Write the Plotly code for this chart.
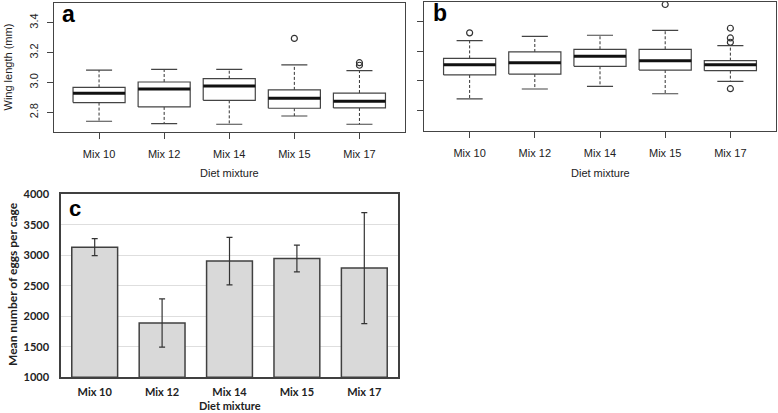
import plotly.graph_objects as go

# ---------------- data ----------------
mixes = ["Mix 10", "Mix 12", "Mix 14", "Mix 15", "Mix 17"]
positions = [1, 2, 3, 4, 5]

# Panel a: wing length (mm)
a_lo  = [2.740, 2.724, 2.720, 2.775, 2.720]
a_q1  = [2.865, 2.836, 2.880, 2.827, 2.829]
a_med = [2.927, 2.956, 2.976, 2.894, 2.874]
a_q3  = [2.967, 3.003, 3.025, 2.950, 2.929]
a_hi  = [3.083, 3.088, 3.088, 3.117, 3.079]
a_out = [[], [], [], [3.295], [3.132, 3.115]]

# Panel b: wing length (mm)
b_lo  = [2.880, 2.946, 2.963, 2.914, 2.997]
b_q1  = [3.040, 3.046, 3.098, 3.073, 3.069]
b_med = [3.109, 3.122, 3.165, 3.136, 3.109]
b_q3  = [3.151, 3.194, 3.212, 3.212, 3.136]
b_hi  = [3.270, 3.299, 3.306, 3.339, 3.237]
b_out = [[3.322], [], [], [3.512], [3.353, 3.288, 3.259, 2.948]]

# Panel c: mean number of eggs per cage
c_mean = [3134, 1890, 2905, 2948, 2790]
c_err  = [140, 395, 390, 220, 910]

W, H = 778, 413
def px(x): return x / W
def py(y): return 1 - y / H

fig = go.Figure()
dark = "#333333"

def add_boxes(xa, ya, lo, q1, med, q3, hi, out):
    rx, ry, mx, my, wx, wy, sx, sy, ox, oy = [], [], [], [], [], [], [], [], [], []
    for p, l, a, m, b, h, o in zip(positions, lo, q1, med, q3, hi, out):
        rx += [p - 0.4, p + 0.4, p + 0.4, p - 0.4, p - 0.4, None]
        ry += [a, a, b, b, a, None]
        mx += [p - 0.4, p + 0.4, None]
        my += [m, m, None]
        wx += [p, p, None, p, p, None]
        wy += [b, h, None, a, l, None]
        sx += [p - 0.2, p + 0.2, None, p - 0.2, p + 0.2, None]
        sy += [h, h, None, l, l, None]
        for v in o:
            ox.append(p); oy.append(v)
    common = dict(xaxis=xa, yaxis=ya, showlegend=False, hoverinfo="skip")
    fig.add_trace(go.Scatter(x=wx, y=wy, mode="lines",
                             line=dict(color=dark, width=1, dash="3px,2px"), **common))
    fig.add_trace(go.Scatter(x=sx, y=sy, mode="lines",
                             line=dict(color="#444444", width=1.2), **common))
    fig.add_trace(go.Scatter(x=rx, y=ry, mode="lines", fill="toself", fillcolor="white",
                             line=dict(color="#444444", width=1.2), **common))
    fig.add_trace(go.Scatter(x=mx, y=my, mode="lines",
                             line=dict(color="#111111", width=3), **common))
    fig.add_trace(go.Scatter(x=ox, y=oy, mode="markers",
                             marker=dict(symbol="circle-open", size=6,
                                         line=dict(color=dark, width=1.2), color=dark),
                             **common))

add_boxes("x", "y", a_lo, a_q1, a_med, a_q3, a_hi, a_out)
add_boxes("x2", "y2", b_lo, b_q1, b_med, b_q3, b_hi, b_out)

fig.add_trace(go.Bar(
    x=mixes, y=[v - 1000 for v in c_mean], base=1000, width=0.68,
    xaxis="x3", yaxis="y3", showlegend=False,
    marker=dict(color="#d9d9d9", line=dict(color="#404040", width=1.5)),
    error_y=dict(type="data", array=c_err, color="#333333", thickness=1.2, width=3),
))

rfont = dict(family="Liberation Sans, Arial, sans-serif", size=11, color="#222222")
bfont = dict(family="Lato, sans-serif", size=11, color="#222222", weight="bold")
bfont12 = dict(family="Lato, sans-serif", size=12, color="#222222", weight="bold")

box_x = dict(range=[0.3, 5.7], tickmode="array", tickvals=positions, ticktext=mixes,
             showgrid=False, zeroline=False, showline=True, mirror=True,
             linecolor="#444444", linewidth=1, ticks="outside", ticklen=6,
             tickcolor="#444444", tickfont=rfont, ticklabelstandoff=6, automargin=False)
box_y = dict(range=[2.668, 3.532], tickvals=[2.8, 3.0, 3.2, 3.4],
             showgrid=False, zeroline=False, showline=True, mirror=True,
             linecolor="#444444", linewidth=1, ticks="outside", ticklen=6,
             tickcolor="#444444", tickfont=rfont, tickangle=-90, automargin=False)

fig.update_layout(
    width=W, height=H, margin=dict(l=0, r=0, t=0, b=0, autoexpand=False),
    paper_bgcolor="white", plot_bgcolor="white",
    xaxis=dict(box_x, domain=[px(53.5), px(405)], anchor="y"),
    yaxis=dict(box_y, domain=[py(132), py(3)], anchor="x",
               ticktext=["2.8", "3.0", "3.2", "3.4"], tickmode="array",
               ticklabelstandoff=4),
    xaxis2=dict(box_x, domain=[px(424), px(776)], anchor="y2"),
    yaxis2=dict(box_y, domain=[py(130.5), py(1.5)], anchor="x2", showticklabels=False),
    xaxis3=dict(domain=[px(61), px(398)], anchor="y3", range=[-0.5, 4.5],
                showgrid=False, zeroline=False, showline=True, mirror=True,
                linecolor="#404040", linewidth=1.5, ticks="", tickfont=bfont,
                ticklabelstandoff=4, automargin=False),
    yaxis3=dict(domain=[py(377.3), py(194.3)], anchor="x3", range=[1000, 4000],
                dtick=500, tick0=1000, showgrid=True, gridcolor="#dedede", gridwidth=1,
                zeroline=False, showline=True, mirror=True,
                linecolor="#404040", linewidth=1.5, ticks="", tickfont=bfont,
                ticklabelstandoff=8, automargin=False),
    annotations=[
        dict(text="Wing length (mm)", x=px(7), y=py(67.5), xref="paper", yref="paper",
             textangle=-90, showarrow=False, font=rfont, xanchor="center", yanchor="middle"),
        dict(text="Diet mixture", x=px(229), y=py(173), xref="paper", yref="paper",
             showarrow=False, font=rfont, xanchor="center", yanchor="middle"),
        dict(text="Diet mixture", x=px(600), y=py(173), xref="paper", yref="paper",
             showarrow=False, font=rfont, xanchor="center", yanchor="middle"),
        dict(text="Mean number of eggs per cage", x=px(12), y=py(284), xref="paper",
             yref="paper", textangle=-90, showarrow=False, font=bfont12,
             xanchor="center", yanchor="middle"),
        dict(text="Diet mixture", x=px(229.5), y=py(405.5), xref="paper", yref="paper",
             showarrow=False, font=bfont, xanchor="center", yanchor="middle"),
        dict(text="<b>a</b>", x=px(60), y=py(14), xref="paper", yref="paper",
             showarrow=False, xanchor="left", yanchor="middle",
             font=dict(family="Liberation Sans, Arial, sans-serif", size=23, color="black")),
        dict(text="<b>b</b>", x=px(430.5), y=py(13), xref="paper", yref="paper",
             showarrow=False, xanchor="left", yanchor="middle",
             font=dict(family="Liberation Sans, Arial, sans-serif", size=23, color="black")),
        dict(text="<b>c</b>", x=px(67), y=py(209), xref="paper", yref="paper",
             showarrow=False, xanchor="left", yanchor="middle",
             font=dict(family="Liberation Sans, Arial, sans-serif", size=22, color="black")),
    ],
)

fig.write_html("out.html", config={"displayModeBar": False},
               post_script="document.body.style.margin='0';")
